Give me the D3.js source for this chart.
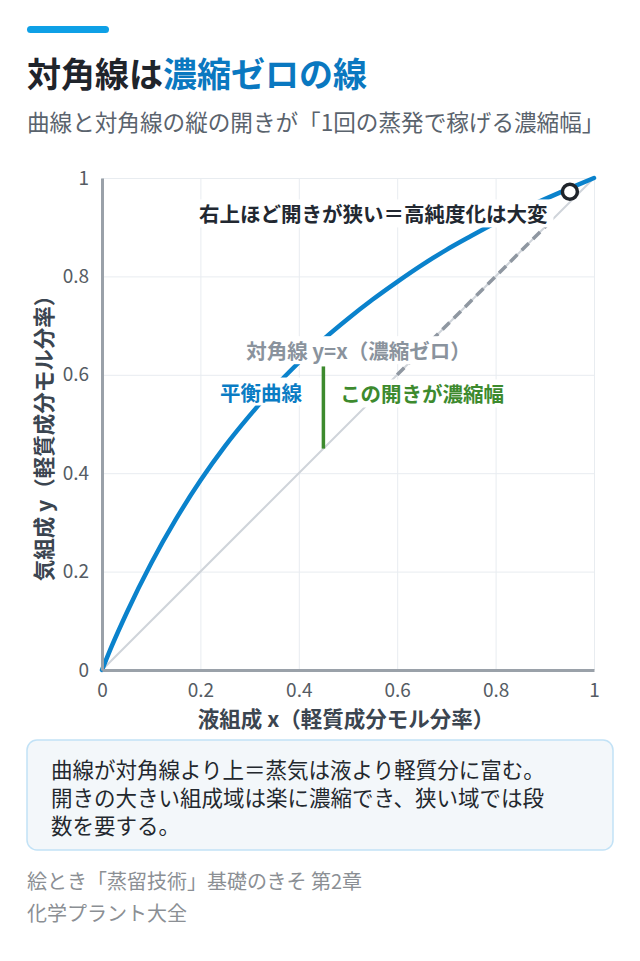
<!DOCTYPE html>
<html>
<head>
<meta charset="utf-8">
<script src="https://cdn.jsdelivr.net/npm/d3@7"></script>
<style>
    body { margin: 0; background: #ffffff; }
    svg { display: block; font-family: "Noto Sans CJK JP", "Noto Sans", sans-serif; }
</style>
</head>
<body>
<div id="chart"></div>
<script>
//Equilibrium curve
var curve_x = [0, 0.02, 0.05, 0.1, 0.15, 0.2, 0.25, 0.3, 0.35, 0.4, 0.45, 0.5, 0.55, 0.6, 0.65, 0.7, 0.75, 0.8, 0.85, 0.9, 0.95, 1];
var curve_y = [0, 0.049, 0.116, 0.217, 0.306, 0.385, 0.455, 0.517, 0.574, 0.625, 0.672, 0.714, 0.753, 0.789, 0.823, 0.854, 0.882, 0.909, 0.934, 0.957, 0.979, 1];

//Diagonal y=x, dashed part near the top, gap marker, end point
var diag_x = [0, 1];
var dash_x = [0.6, 0.92];
var gap_x = 0.45;
var gap_y = [0.45, 0.617];
var end_point = [0.951, 0.972];

var tick_values = [0, 0.2, 0.4, 0.6, 0.8, 1];
var tick_labels = ["0", "0.2", "0.4", "0.6", "0.8", "1"];

var title_dark = "対角線は";
var title_blue = "濃縮ゼロの線";
var subtitle = "曲線と対角線の縦の開きが「1回の蒸発で稼げる濃縮幅」";
var x_title = "液組成 x（軽質成分モル分率）";
var y_title = "気組成 y（軽質成分モル分率）";
var note_lines = ["曲線が対角線より上＝蒸気は液より軽質分に富む。", "開きの大きい組成域は楽に濃縮でき、狭い域では段", "数を要する。"];
var source_lines = ["絵とき「蒸留技術」基礎のきそ 第2章", "化学プラント大全"];

//Annotations: text, x start, y centre (data units), colour
var labels = [
    {text: "右上ほど開きが狭い＝高純度化は大変", x: 0.197, y: 0.928, color: "#222831"},
    {text: "対角線 y=x（濃縮ゼロ）", x: 0.293, y: 0.650, color: "#8a939d"},
    {text: "平衡曲線", x: 0.240, y: 0.566, color: "#0a7cc4"},
    {text: "この開きが濃縮幅", x: 0.484, y: 0.562, color: "#3d8a2e"}
];


var width = 640, height = 961;
var margin = {top: 178, right: 46, bottom: 291, left: 102};
var inner_width = width - margin.left - margin.right;
var inner_height = height - margin.top - margin.bottom;

var svg = d3.select("#chart").append("svg")
    .attr("width", width)
    .attr("height", height);


//Header
svg.append("rect")
    .attr("x", 27).attr("y", 26)
    .attr("width", 82).attr("height", 7)
    .attr("rx", 3.5)
    .attr("fill", "#0ea0e6");

var title = svg.append("text")
    .attr("x", 27).attr("y", 72)
    .attr("dominant-baseline", "central")
    .attr("font-size", 34)
    .attr("font-weight", "bold");
title.append("tspan").attr("fill", "#1f242b").text(title_dark);
title.append("tspan").attr("fill", "#0a78c0").text(title_blue);

svg.append("text")
    .attr("x", 27).attr("y", 121)
    .attr("dominant-baseline", "central")
    .attr("font-size", 22.6)
    .attr("fill", "#5a636d")
    .text(subtitle);


//Scales
var x_scale = d3.scaleLinear()
    .domain([0, 1])
    .range([0, inner_width]);

var y_scale = d3.scaleLinear()
    .domain([0, 1])
    .range([inner_height, 0]);

var g = svg.append("g")
    .attr("transform", "translate(" + margin.left + "," + margin.top + ")");


//Grid
g.append("g")
    .attr("transform", "translate(0," + inner_height + ")")
    .call(d3.axisBottom(x_scale).tickValues(tick_values).tickSize(-inner_height).tickFormat(""))
    .call(function(a) {
        a.select(".domain").remove();
        a.selectAll("line").attr("stroke", "#e8ecf0").attr("stroke-width", 1);
    });

g.append("g")
    .call(d3.axisLeft(y_scale).tickValues(tick_values).tickSize(-inner_width).tickFormat(""))
    .call(function(a) {
        a.select(".domain").remove();
        a.selectAll("line").attr("stroke", "#e8ecf0").attr("stroke-width", 1);
    });


//Diagonal
var line = d3.line()
    .x(function(d) {return x_scale(d[0]);})
    .y(function(d) {return y_scale(d[1]);});

g.append("path")
    .attr("d", line(diag_x.map(function(v) {return [v, v];})))
    .attr("fill", "none")
    .attr("stroke", "#cfd4da")
    .attr("stroke-width", 2);

g.append("path")
    .attr("d", line(dash_x.map(function(v) {return [v, v];})))
    .attr("fill", "none")
    .attr("stroke", "#8f97a1")
    .attr("stroke-width", 3.5)
    .attr("stroke-dasharray", "10,6");


//Equilibrium curve
var curve_line = d3.line()
    .x(function(d) {return x_scale(d[0]);})
    .y(function(d) {return y_scale(d[1]);})
    .curve(d3.curveMonotoneX);

g.append("path")
    .attr("d", curve_line(d3.zip(curve_x, curve_y)))
    .attr("fill", "none")
    .attr("stroke", "#0a82cc")
    .attr("stroke-width", 4.5)
    .attr("stroke-linecap", "round");


//Gap marker
g.append("line")
    .attr("x1", x_scale(gap_x)).attr("x2", x_scale(gap_x))
    .attr("y1", y_scale(gap_y[0])).attr("y2", y_scale(gap_y[1]))
    .attr("stroke", "#3d8a2e")
    .attr("stroke-width", 3.5);


//Axes
var x_axis = d3.axisBottom(x_scale)
    .tickValues(tick_values)
    .tickSize(0)
    .tickPadding(14)
    .tickFormat(function(d, i) {return tick_labels[i];});

var y_axis = d3.axisLeft(y_scale)
    .tickValues(tick_values)
    .tickSize(0)
    .tickPadding(13)
    .tickFormat(function(d, i) {return tick_labels[i];});

var style_axis = function(a) {
    a.select(".domain").attr("stroke", "#9aa1a9").attr("stroke-width", 3);
    a.selectAll("text")
        .attr("font-family", "'Noto Sans CJK JP', sans-serif")
        .attr("font-size", 19)
        .attr("fill", "#555c64");
};

g.append("g")
    .attr("transform", "translate(0," + inner_height + ")")
    .call(x_axis)
    .call(style_axis);

g.append("g")
    .call(y_axis)
    .call(style_axis);

svg.append("text")
    .attr("x", margin.left + inner_width / 2 - 2)
    .attr("y", 717)
    .attr("text-anchor", "middle")
    .attr("dominant-baseline", "central")
    .attr("font-size", 21.5)
    .attr("font-weight", "bold")
    .attr("fill", "#3b4550")
    .text(x_title);

svg.append("text")
    .attr("transform", "translate(42," + (margin.top + inner_height / 2 + 9) + ") rotate(-90)")
    .attr("text-anchor", "middle")
    .attr("dominant-baseline", "central")
    .attr("font-size", 21.5)
    .attr("font-weight", "bold")
    .attr("fill", "#3b4550")
    .text(y_title);


//Labels with white boxes behind
labels.forEach(function(l) {
    var lg = g.append("g");
    var t = lg.append("text")
        .attr("x", x_scale(l.x))
        .attr("y", y_scale(l.y))
        .attr("dominant-baseline", "central")
        .attr("font-size", 20.5)
        .attr("font-weight", "bold")
        .attr("fill", l.color)
        .text(l.text);
    var b = t.node().getBBox();
    lg.insert("rect", "text")
        .attr("x", b.x - 6).attr("y", b.y + 1)
        .attr("width", b.width + 12).attr("height", b.height - 2)
        .attr("fill", "#ffffff");
});


//End point
g.append("circle")
    .attr("cx", x_scale(end_point[0]))
    .attr("cy", y_scale(end_point[1]))
    .attr("r", 7.5)
    .attr("fill", "#ffffff")
    .attr("stroke", "#1f242b")
    .attr("stroke-width", 3.5);


//Note box
svg.append("rect")
    .attr("x", 27).attr("y", 740)
    .attr("width", 586).attr("height", 110)
    .attr("rx", 10)
    .attr("fill", "#f3f7fa")
    .attr("stroke", "#c2e2f6")
    .attr("stroke-width", 1.5);

svg.append("g").selectAll("text")
    .data(note_lines)
    .join("text")
    .attr("x", 51)
    .attr("y", function(d, i) {return 768 + i * 28;})
    .attr("dominant-baseline", "central")
    .attr("font-size", 21.5)
    .attr("fill", "#23282e")
    .text(function(d) {return d;});


//Source
svg.append("g").selectAll("text")
    .data(source_lines)
    .join("text")
    .attr("x", 27)
    .attr("y", function(d, i) {return 880 + i * 32;})
    .attr("dominant-baseline", "central")
    .attr("font-size", 20)
    .attr("fill", "#8b8f94")
    .text(function(d) {return d;});
</script>
</body>
</html>
